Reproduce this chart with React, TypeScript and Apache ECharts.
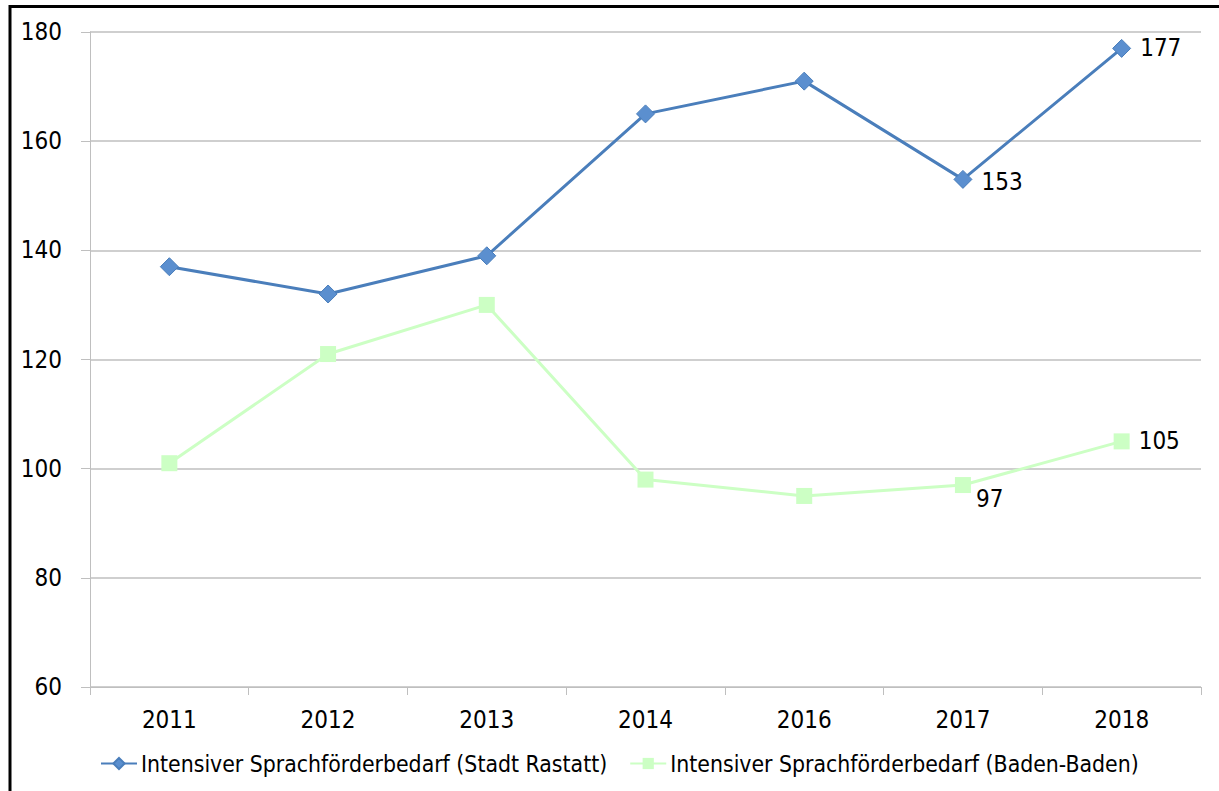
import React, { useEffect, useRef } from "react";
import * as echarts from "echarts";

const years = ["2011", "2012", "2013", "2014", "2016", "2017", "2018"];
const rastatt = [137, 132, 139, 165, 171, 153, 177];
const badenBaden = [101, 121, 130, 98, 95, 97, 105];
const labeledIdx = [5, 6];
const nameA = "Intensiver Sprachförderbedarf (Stadt Rastatt)";
const nameB = "Intensiver Sprachförderbedarf (Baden-Baden)";

const FONT = "'DejaVu Sans Condensed', 'Liberation Sans', sans-serif";

export default function App() {
  const ref = useRef<HTMLDivElement>(null);
  useEffect(() => {
    document.body.style.margin = "0";
    const chart = echarts.init(ref.current!, null, { renderer: "svg" });
    const mk = (vals: number[], offs: number[][]) =>
      vals.map((v, i) => {
        const idx = labeledIdx.indexOf(i);
        if (idx < 0) return v;
        return {
          value: v,
          label: {
            show: true,
            position: "right",
            offset: offs[idx],
            formatter: "{c}",
            fontSize: 24,
            color: "#000",
            fontFamily: FONT,
          },
        };
      });
    chart.setOption({
      animation: false,
      backgroundColor: "#fff",
      textStyle: { fontFamily: FONT },
      grid: { left: 90, right: 18, top: 32, bottom: 104, containLabel: false },
      graphic: [
        { type: "line", shape: { x1: 9, y1: 6.5, x2: 1219, y2: 6.5 }, style: { stroke: "#000", lineWidth: 3 } },
        { type: "line", shape: { x1: 10, y1: 5, x2: 10, y2: 791 }, style: { stroke: "#000", lineWidth: 3 } },
      ],
      legend: {
        bottom: 11,
        left: 95,
        itemWidth: 36,
        itemHeight: 14,
        itemGap: 22,
        textStyle: { fontSize: 22.8, color: "#000", fontFamily: FONT, padding: [0, 0, 0, -1] },
        data: [nameA, nameB],
      },
      xAxis: {
        type: "category",
        data: years,
        boundaryGap: true,
        axisLine: { lineStyle: { color: "#bfbfbf", width: 1 } },
        axisTick: { show: true, length: 8, alignWithLabel: false, lineStyle: { color: "#bfbfbf" } },
        axisLabel: { fontSize: 24, color: "#000", margin: 21, fontFamily: FONT },
        splitLine: { show: false },
      },
      yAxis: {
        type: "value",
        min: 60,
        max: 180,
        interval: 20,
        axisLine: { show: true, lineStyle: { color: "#bfbfbf", width: 1 } },
        axisTick: { show: true, length: 9, lineStyle: { color: "#bfbfbf" } },
        axisLabel: { fontSize: 24, color: "#000", margin: 28, fontFamily: FONT },
        splitLine: { show: true, lineStyle: { color: "#bfbfbf", width: 1.5 } },
      },
      series: [
        {
          name: nameA,
          type: "line",
          data: mk(rastatt, [[4, 3], [4, 0]]),
          symbol: "diamond",
          symbolSize: 18,
          lineStyle: { color: "#4a7ebb", width: 3 },
          itemStyle: { color: "#5b8fcf", borderColor: "#4a7ebb", borderWidth: 1 },
          z: 3,
        },
        {
          name: nameB,
          type: "line",
          data: mk(badenBaden, [[0, 14], [4, 0]]),
          symbol: "rect",
          symbolSize: 16,
          lineStyle: { color: "#ccffc4", width: 3 },
          itemStyle: { color: "#ccffc4", borderColor: "#ccffc4", borderWidth: 0 },
          z: 2,
        },
      ],
    });
    return () => chart.dispose();
  }, []);
  return <div ref={ref} style={{ width: 1219, height: 791 }} />;
}
